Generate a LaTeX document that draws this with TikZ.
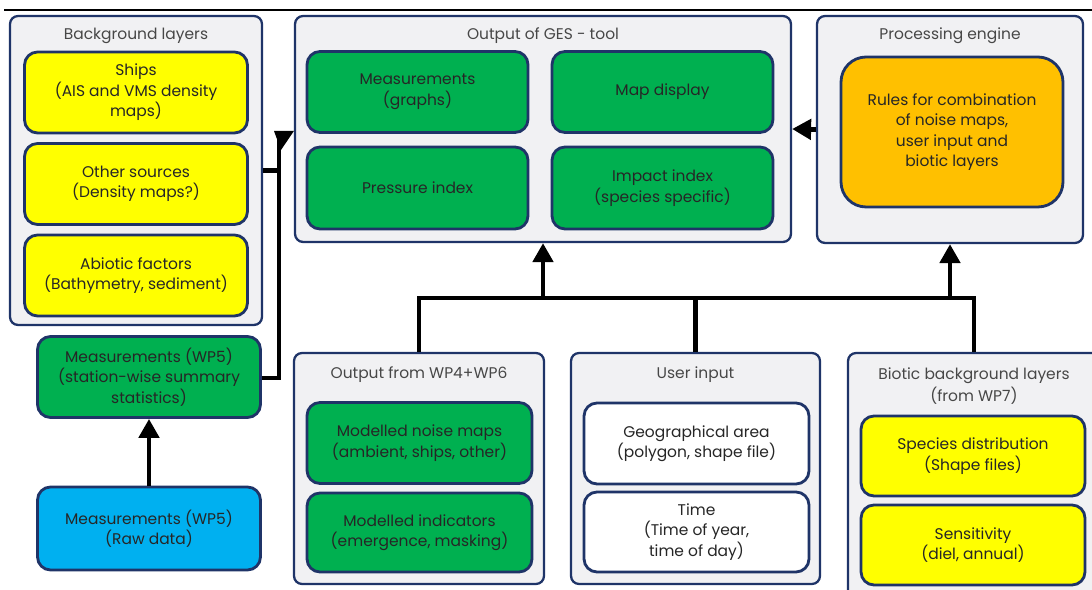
\documentclass[tikz,border=0pt]{standalone}
\usepackage{fontspec}
\setmainfont{Poppins}
\usetikzlibrary{arrows.meta,calc}

\definecolor{navy}{HTML}{1F3468}
\definecolor{panelgray}{HTML}{F1F1F3}
\definecolor{ylw}{HTML}{FFFF00}
\definecolor{grn}{HTML}{00B050}
\definecolor{cyanblue}{HTML}{00B0F0}
\definecolor{orng}{HTML}{FFC000}
\definecolor{txt}{HTML}{262626}

\tikzset{
  panel/.style={draw=navy, fill=panelgray, line width=1.3pt, rounded corners=0.16cm},
  item/.style={draw=navy, line width=1.6pt, rounded corners=0.26cm, minimum width=4.46cm,
    minimum height=1.62cm, align=center, text=txt, inner sep=1pt},
  title/.style={align=center, text=txt!85},
  link/.style={line width=2.7pt, black},
  arr/.style={link, -{Triangle[length=0.38cm, width=0.4cm]}}
}

\begin{document}
\begin{tikzpicture}[x=0.02cm, y=-0.02cm, every node/.style={font=\fontsize{8.8}{11.7}\selectfont}]
  \useasboundingbox (0,0) rectangle (1092,590);
  \fill[white] (0,0) rectangle (1092,590);
  \coordinate (ruleL) at (4,10);
  \coordinate (ruleR) at (1092,10);
  \draw[line width=1.2pt] (ruleL) -- (ruleR);

  % panels
  \node[panel, minimum width=5.04cm, minimum height=6.18cm] (bg) at (136,170.5) {};
  \node[panel, minimum width=9.92cm, minimum height=4.52cm] (ges) at (543,129) {};
  \node[panel, minimum width=5.32cm, minimum height=4.54cm] (proc) at (950,129.5) {};
  \node[panel, minimum width=5.0cm, minimum height=4.62cm] (wp46) at (419,468.5) {};
  \node[panel, minimum width=4.98cm, minimum height=4.62cm] (user) at (695.5,468.5) {};
  \node[panel, minimum width=5.04cm, minimum height=4.94cm] (biotic) at (974,476.5) {};

  \node[title] (bgtitle) at (136,35.5) {Background layers};
  \node[title] (gestitle) at (543,35.5) {Output of GES - tool};
  \node[title] (proctitle) at (950,35.5) {Processing engine};
  \node[title] (wp46title) at (419,374.5) {Output from WP4+WP6};
  \node[title] (usertitle) at (695.5,374.5) {User input};
  \node[title, font=\fontsize{8.8}{12.8}\selectfont] (biotictitle) at (974,386) {Biotic background layers\\(from WP7)};

  % boxes
  \node[item, fill=ylw] (ships) at (136,92.5) {Ships\\(AIS and VMS density\\maps)};
  \node[item, fill=ylw] (other) at (136,184) {Other sources\\(Density maps?)};
  \node[item, fill=ylw] (abiotic) at (136,275.5) {Abiotic factors\\(Bathymetry, sediment)};
  \node[item, fill=grn] (measwp5) at (149,377) {Measurements (WP5)\\(station-wise summary\\statistics)};
  \node[item, fill=cyanblue, minimum height=1.66cm] (raw) at (149,528.5) {Measurements (WP5)\\(Raw data)};

  \node[item, fill=grn, minimum width=4.42cm] (graphs) at (417.5,92) {Measurements\\(graphs)};
  \node[item, fill=grn, minimum width=4.42cm] (mapdisp) at (662.5,92) {Map display};
  \node[item, fill=grn, minimum width=4.42cm, minimum height=1.64cm] (pressure) at (417.5,188) {Pressure index};
  \node[item, fill=grn, minimum width=4.42cm, minimum height=1.64cm] (impact) at (662.5,188) {Impact index\\(species specific)};

  \node[item, fill=orng, minimum width=4.44cm, minimum height=3.0cm, rounded corners=0.5cm] (rules) at (952,132)
    {Rules for combination\\of noise maps,\\user input and\\biotic layers};

  \node[item, fill=grn, minimum width=4.5cm] (noise) at (419.5,443) {Modelled noise maps\\(ambient, ships, other)};
  \node[item, fill=grn, minimum width=4.5cm, minimum height=1.58cm] (indic) at (419.5,532.5) {Modelled indicators\\(emergence, masking)};
  \node[item, fill=white, minimum width=4.5cm] (geo) at (696.5,443.5) {Geographical area\\(polygon, shape file)};
  \node[item, fill=white, minimum width=4.5cm, minimum height=1.6cm] (time) at (696.5,532) {Time\\(Time of year,\\time of day)};
  \node[item, fill=ylw, minimum width=4.48cm, minimum height=1.6cm] (species) at (973,456) {Species distribution\\(Shape files)};
  \node[item, fill=ylw, minimum width=4.48cm, minimum height=1.6cm] (sens) at (973,545) {Sensitivity\\(diel, annual)};

  % connectors
  \coordinate (bus) at (0,298);
  \coordinate (joint) at (279,131);
  \draw[arr] (raw.north) -- (measwp5.south);
  \draw[arr] (proc.west) -- (ges.east);
  \draw[link] (wp46.north) -- (wp46.north |- bus) -- (biotic.north |- bus) -- (biotic.north);
  \draw[link] (user.north) -- (user.north |- bus);
  \draw[arr] (ges.south |- bus) -- (ges.south);
  \draw[arr] (proc.south |- bus) -- (proc.south);
  \draw[link] ([yshift=-0.6pt]measwp5.east) -| (joint);
  \draw[link] (bg.east) -- (joint |- bg.east);
  \fill ($(joint)+(-5,0)$) -- (ges.west |- joint) -- ($(joint)+(2,19)$) -- cycle;
\end{tikzpicture}
\end{document}
